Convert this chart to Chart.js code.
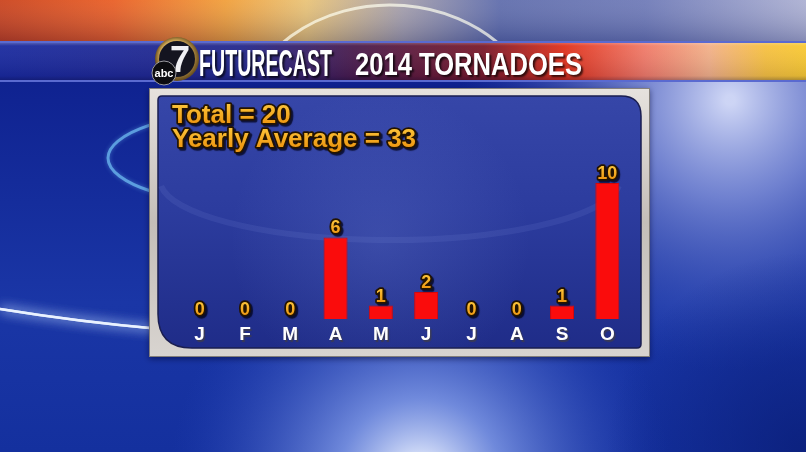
<!DOCTYPE html>
<html>
<head>
<meta charset="utf-8">
<script src="https://cdn.jsdelivr.net/npm/chart.js@4.4.1/dist/chart.umd.min.js"></script>
<style>
  html, body { margin: 0; padding: 0; background: #1a2f9c; overflow: hidden; }
  canvas { display: block; }
</style>
</head>
<body>
<canvas id="chart" width="806" height="452"></canvas>
<script>
// tornado counts by month, 2014
const months = ['J', 'F', 'M', 'A', 'M', 'J', 'J', 'A', 'S', 'O'];
const tornadoes = [0, 0, 0, 6, 1, 2, 0, 0, 1, 10];
const headerBrand = 'FUTURECAST';
const headerTitle = '2014 TORNADOES';
const summaryLines = ['Total = 20', 'Yearly Average = 33'];

const SANS = '"Liberation Sans", Arial, sans-serif';

function fitText(ctx, text, x, baseline, width, font) {
  ctx.save();
  ctx.font = font;
  const w = ctx.measureText(text).width;
  ctx.translate(x, baseline);
  ctx.scale(width / w, 1);
  ctx.shadowColor = 'rgba(0,0,0,0.7)';
  ctx.shadowOffsetX = 2;
  ctx.shadowOffsetY = 2;
  ctx.shadowBlur = 2;
  ctx.fillStyle = '#ffffff';
  ctx.fillText(text, 0, 0);
  ctx.restore();
}

function drawBackground(ctx, W, H) {
  // base blue
  let g = ctx.createLinearGradient(0, 80, 0, H);
  g.addColorStop(0, '#0f2290');
  g.addColorStop(0.6, '#1a36a6');
  g.addColorStop(1, '#14309e');
  ctx.fillStyle = g;
  ctx.fillRect(0, 0, W, H);

  // light on the upper right
  g = ctx.createRadialGradient(730, 100, 5, 730, 100, 270);
  g.addColorStop(0, 'rgba(215,222,250,0.95)');
  g.addColorStop(0.35, 'rgba(150,165,230,0.7)');
  g.addColorStop(1, 'rgba(60,85,190,0)');
  ctx.fillStyle = g;
  ctx.fillRect(0, 0, W, H);

  // bright glow bottom centre
  g = ctx.createRadialGradient(420, 480, 10, 420, 480, 250);
  g.addColorStop(0, 'rgba(240,245,255,1)');
  g.addColorStop(0.3, 'rgba(150,175,245,0.7)');
  g.addColorStop(1, 'rgba(40,70,190,0)');
  ctx.fillStyle = g;
  ctx.fillRect(0, 0, W, H);

  // darker bottom right corner
  g = ctx.createRadialGradient(806, 452, 5, 806, 452, 200);
  g.addColorStop(0, 'rgba(10,30,120,0.8)');
  g.addColorStop(1, 'rgba(10,30,120,0)');
  ctx.fillStyle = g;
  ctx.fillRect(0, 0, W, H);

  // left white streak
  ctx.save();
  ctx.strokeStyle = 'rgba(235,242,255,0.95)';
  ctx.lineWidth = 2.5;
  ctx.shadowColor = 'rgba(190,215,255,1)';
  ctx.shadowBlur = 12;
  ctx.beginPath();
  ctx.moveTo(0, 309);
  ctx.quadraticCurveTo(80, 322, 160, 329);
  ctx.stroke();
  ctx.stroke();
  // ring arc left
  ctx.strokeStyle = 'rgba(110,185,240,0.75)';
  ctx.shadowColor = 'rgba(110,185,240,0.6)';
  ctx.shadowBlur = 4;
  ctx.lineWidth = 3;
  ctx.beginPath();
  ctx.ellipse(250, 158, 142, 46, 0, Math.PI * 0.62, Math.PI * 1.38);
  ctx.stroke();
  ctx.restore();

  // top band
  g = ctx.createLinearGradient(0, 0, W, 0);
  g.addColorStop(0, '#c83a12');
  g.addColorStop(0.14, '#e8561a');
  g.addColorStop(0.28, '#f09a30');
  g.addColorStop(0.38, '#e8c070');
  g.addColorStop(0.5, '#a09aa8');
  g.addColorStop(0.62, '#5866a8');
  g.addColorStop(0.8, '#6874b4');
  g.addColorStop(1, '#a8acd0');
  ctx.fillStyle = g;
  ctx.fillRect(0, 0, W, 42);
  g = ctx.createLinearGradient(0, 0, 0, 42);
  g.addColorStop(0, 'rgba(255,255,255,0.1)');
  g.addColorStop(1, 'rgba(20,30,90,0.25)');
  ctx.fillStyle = g;
  ctx.fillRect(0, 0, W, 42);
  // arc in top band
  ctx.save();
  ctx.strokeStyle = 'rgba(255,255,240,0.7)';
  ctx.lineWidth = 3;
  ctx.beginPath();
  ctx.ellipse(390, 130, 150, 125, 0, Math.PI * 1.15, Math.PI * 1.85);
  ctx.stroke();
  ctx.restore();
}

function drawHeader(ctx, W) {
  const top = 41, h = 41;
  let g = ctx.createLinearGradient(0, 0, W, 0);
  g.addColorStop(0, '#1a2a9e');
  g.addColorStop(0.3, '#24288c');
  g.addColorStop(0.44, '#4a1c4c');
  g.addColorStop(0.6, '#7a1a2a');
  g.addColorStop(0.7, '#e0321c');
  g.addColorStop(0.8, '#f07a68');
  g.addColorStop(0.88, '#f2b088');
  g.addColorStop(0.95, '#f6c040');
  g.addColorStop(1, '#f8c832');
  ctx.fillStyle = g;
  ctx.fillRect(0, top, W, h);
  g = ctx.createLinearGradient(0, top, 0, top + h);
  g.addColorStop(0, 'rgba(255,255,255,0.35)');
  g.addColorStop(0.12, 'rgba(255,255,255,0.05)');
  g.addColorStop(0.85, 'rgba(0,0,40,0.1)');
  g.addColorStop(1, 'rgba(0,0,40,0.4)');
  ctx.fillStyle = g;
  ctx.fillRect(0, top, W, h);
  ctx.fillStyle = '#5a6ad0';
  ctx.fillRect(0, top, W, 2);
  ctx.fillRect(0, top + h - 2, W, 2);

  fitText(ctx, headerBrand, 199, 76, 133, 'bold 36px ' + SANS);
  fitText(ctx, headerTitle, 355, 75, 227, 'bold 31px ' + SANS);

  // abc 7 logo
  ctx.save();
  g = ctx.createRadialGradient(172, 52, 2, 177, 58, 22);
  g.addColorStop(0, '#f4e6b0');
  g.addColorStop(0.7, '#c8a050');
  g.addColorStop(1, '#6a5020');
  ctx.fillStyle = g;
  ctx.beginPath();
  ctx.arc(177, 59, 22, 0, Math.PI * 2);
  ctx.fill();
  ctx.fillStyle = '#141420';
  ctx.beginPath();
  ctx.arc(177, 59, 18, 0, Math.PI * 2);
  ctx.fill();
  ctx.fillStyle = '#f0f0f4';
  ctx.font = 'bold 36px ' + SANS;
  ctx.textAlign = 'center';
  ctx.fillText('7', 180, 72);
  ctx.fillStyle = '#0c0c10';
  ctx.beginPath();
  ctx.arc(164, 73, 12, 0, Math.PI * 2);
  ctx.fill();
  ctx.strokeStyle = '#9a9aa0';
  ctx.lineWidth = 1;
  ctx.stroke();
  ctx.fillStyle = '#ffffff';
  ctx.font = 'bold 11px ' + SANS;
  ctx.fillText('abc', 164, 77);
  ctx.restore();
}

function roundRectPath(ctx, x, y, w, h, r) {
  // r: [tl, tr, br, bl]
  ctx.beginPath();
  ctx.moveTo(x + r[0], y);
  ctx.lineTo(x + w - r[1], y);
  ctx.quadraticCurveTo(x + w, y, x + w, y + r[1]);
  ctx.lineTo(x + w, y + h - r[2]);
  ctx.quadraticCurveTo(x + w, y + h, x + w - r[2], y + h);
  ctx.lineTo(x + r[3], y + h);
  ctx.quadraticCurveTo(x, y + h, x, y + h - r[3]);
  ctx.lineTo(x, y + r[0]);
  ctx.quadraticCurveTo(x, y, x + r[0], y);
  ctx.closePath();
}

function drawPanel(ctx) {
  ctx.save();
  ctx.shadowColor = 'rgba(0,0,40,0.5)';
  ctx.shadowBlur = 6;
  ctx.shadowOffsetY = 2;
  let g = ctx.createLinearGradient(0, 88, 0, 357);
  g.addColorStop(0, '#e6e2de');
  g.addColorStop(0.5, '#c4beb8');
  g.addColorStop(1, '#d8d4d0');
  ctx.fillStyle = g;
  ctx.fillRect(149, 88, 501, 269);
  ctx.restore();
  ctx.strokeStyle = 'rgba(110,105,100,0.8)';
  ctx.lineWidth = 1;
  ctx.strokeRect(149.5, 88.5, 500, 268);

  g = ctx.createLinearGradient(0, 96, 0, 349);
  g.addColorStop(0, '#3646a8');
  g.addColorStop(0.45, '#2c3c9e');
  g.addColorStop(1, '#1f2c88');
  ctx.fillStyle = g;
  roundRectPath(ctx, 158, 96, 483, 252, [4, 20, 4, 34]);
  ctx.fill();
  ctx.strokeStyle = '#1a1e50';
  ctx.lineWidth = 1.5;
  ctx.stroke();

  // faint glow inside the panel
  ctx.save();
  roundRectPath(ctx, 158, 96, 483, 252, [4, 20, 4, 34]);
  ctx.clip();
  g = ctx.createRadialGradient(380, 240, 5, 380, 240, 150);
  g.addColorStop(0, 'rgba(120,140,220,0.22)');
  g.addColorStop(1, 'rgba(120,140,220,0)');
  ctx.fillStyle = g;
  ctx.fillRect(158, 96, 483, 252);
  ctx.strokeStyle = 'rgba(140,160,230,0.12)';
  ctx.lineWidth = 6;
  ctx.beginPath();
  ctx.ellipse(390, 180, 230, 60, 0, 0.1, Math.PI - 0.1);
  ctx.stroke();
  ctx.restore();
}

function orangeText(ctx, text, x, y, font, align, size) {
  ctx.save();
  ctx.font = font;
  ctx.textAlign = align;
  ctx.textBaseline = 'alphabetic';
  ctx.lineJoin = 'round';
  ctx.shadowColor = 'rgba(0,0,20,0.75)';
  ctx.shadowOffsetX = 2;
  ctx.shadowOffsetY = 2;
  ctx.shadowBlur = 1;
  ctx.strokeStyle = '#241400';
  ctx.lineWidth = 3.5;
  ctx.strokeText(text, x, y);
  ctx.shadowColor = 'transparent';
  const g = ctx.createLinearGradient(0, y - size, 0, y);
  g.addColorStop(0, '#fcc43a');
  g.addColorStop(1, '#ee9812');
  ctx.fillStyle = g;
  ctx.fillText(text, x, y);
  ctx.restore();
}

const scene = {
  id: 'scene',
  beforeDraw(chart) {
    const ctx = chart.ctx;
    ctx.save();
    drawBackground(ctx, chart.width, chart.height);
    drawHeader(ctx, chart.width);
    drawPanel(ctx);
    orangeText(ctx, summaryLines[0], 172, 123, 'bold 26px ' + SANS, 'left', 19);
    orangeText(ctx, summaryLines[1], 172, 147, 'bold 26px ' + SANS, 'left', 19);
    ctx.restore();
    // shadow for the month letters drawn next by the x axis
    ctx.shadowColor = 'rgba(60,60,80,0.9)';
    ctx.shadowOffsetX = 1.5;
    ctx.shadowOffsetY = 2;
    ctx.shadowBlur = 1;
  },
  beforeDatasetsDraw(chart) {
    const ctx = chart.ctx;
    ctx.shadowColor = 'transparent';
    ctx.shadowOffsetX = 0;
    ctx.shadowOffsetY = 0;
    ctx.shadowBlur = 0;
  },
  afterDatasetsDraw(chart) {
    const ctx = chart.ctx;
    const meta = chart.getDatasetMeta(0);
    meta.data.forEach((bar, i) => {
      orangeText(ctx, String(tornadoes[i]), bar.x, bar.y - 4, 'bold 18px ' + SANS, 'center', 13);
    });
  }
};

new Chart(document.getElementById('chart'), {
  type: 'bar',
  data: {
    labels: months,
    datasets: [{
      data: tornadoes,
      backgroundColor: '#fa0c0c',
      borderColor: '#d80808',
      borderWidth: 1,
      barPercentage: 0.53,
      categoryPercentage: 1
    }]
  },
  options: {
    responsive: false,
    animation: false,
    devicePixelRatio: 1,
    layout: { padding: { left: 177, right: 176, top: 183, bottom: 102 } },
    plugins: {
      legend: { display: false },
      tooltip: { enabled: false }
    },
    scales: {
      x: {
        grid: { display: false, drawTicks: false },
        border: { display: false },
        ticks: {
          color: '#ffffff',
          padding: 4,
          font: { family: 'Liberation Sans', size: 19, weight: 'bold' }
        }
      },
      y: {
        display: false,
        min: 0,
        max: 10
      }
    }
  },
  plugins: [scene]
});
</script>
</body>
</html>
